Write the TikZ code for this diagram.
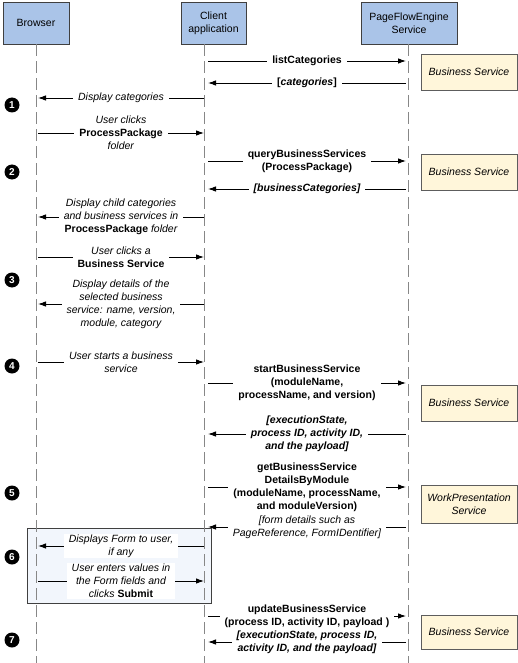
\documentclass[tikz,border=0pt]{standalone}
\usepackage{fontspec}
\setmainfont{Liberation Sans}
\usetikzlibrary{arrows.meta}

\definecolor{hdrblue}{RGB}{170,196,232}
\definecolor{svcyellow}{RGB}{255,246,218}
\definecolor{formblue}{RGB}{242,246,252}
\definecolor{lifegray}{RGB}{135,135,135}
\definecolor{edgegray}{RGB}{64,64,64}
\newcommand{\bup}[1]{\textbf{\upshape #1}}

\begin{document}
\begin{tikzpicture}[x=1pt, y=-1pt, font=\fontsize{10.5}{13}\selectfont,
	actor/.style={draw=edgegray, fill=hdrblue, line width=0.9pt, minimum height=42pt, align=center, inner sep=1pt},
	svc/.style={draw=edgegray!85, fill=svcyellow, line width=0.9pt, minimum width=96pt, minimum height=36pt, align=center, font=\fontsize{10.5}{13}\selectfont\itshape},
	life/.style={draw=lifegray, line width=0.8pt, dash pattern=on 12pt off 5pt},
	msg/.style={line width=0.9pt, -{Latex[length=8pt,width=5.5pt]}},
	lbl/.style={fill=white, inner xsep=5pt, inner ysep=1pt, align=center},
	lblit/.style={lbl, font=\fontsize{10.5}{13}\selectfont\itshape},
	lblbf/.style={lbl, font=\fontsize{10.5}{13}\selectfont\bfseries},
	lblbi/.style={lbl, font=\fontsize{10.5}{13}\selectfont\bfseries\itshape},
	stepnum/.style={circle, fill=black, text=white, inner sep=0pt, minimum size=15pt, font=\fontsize{10}{12}\selectfont\bfseries}]
	\useasboundingbox (0,0) rectangle (517,663);
	\node[actor, minimum width=66pt] (brw) at (36,23) {Browser};
	\node[actor, minimum width=65pt] (cli) at (213.5,23) {Client\\application};
	\node[actor, minimum width=96pt] (pfe) at (409,23) {PageFlowEngine\\Service};
	% step 6 frame, under the lifelines
	\draw[draw=edgegray, fill=formblue, line width=0.9pt] (27,528) rectangle (211,603);
	% lifelines
	\coordinate (brwL) at (brw.south);
	\coordinate (cliL) at (204,44);
	\coordinate (pfeL) at (408,44);
	\coordinate (brwE) at (brwL |- 0,663);
	\coordinate (cliE) at (cliL |- 0,663);
	\coordinate (pfeE) at (pfeL |- 0,663);
	\draw[life] (brwL) -- (brwE);
	\draw[life] (cliL) -- (cliE);
	\draw[life] (pfeL) -- (pfeE);
	% message ends
	\coordinate (brwA) at (38,44);
	\coordinate (cliB) at (208,44);
	\coordinate (pfeA) at (406,44);
	% services
	\node[svc] (bs1) at (469,72) {Business Service};
	\node[svc] (bs2) at (469,172) {Business Service};
	\node[svc] (bs3) at (469,403) {Business Service};
	\node[svc, minimum height=38pt] (wps) at (469,504) {WorkPresentation\\Service};
	\node[svc, minimum height=34pt] (bs4) at (469,632) {Business Service};
	% steps
	\foreach \n/\y in {1/105, 2/172, 3/280, 4/366, 5/493, 6/557, 7/640}
		\node[stepnum] (s\n) at (12,\y) {\n};
	% messages
	\draw[msg] (cliB |- 0,61) -- node[lblbf] {listCategories} (pfeA |- 0,61);
	\draw[msg] (pfeA |- 0,83) -- node[lblbf] {[\textit{categories}]} (cliB |- 0,83);
	\draw[msg] (cliL |- 0,98) -- node[lblit] {Display categories} (brwA |- 0,98);
	\draw[msg] (brwA |- 0,133) -- node[lbl] {\textit{User clicks}\\\textbf{ProcessPackage}\\\textit{folder}} (cliL |- 0,133);
	\draw[msg] (cliB |- 0,161) -- node[lblbf] {queryBusinessServices\\(ProcessPackage)} (pfeA |- 0,161);
	\draw[msg] (pfeA |- 0,189) -- node[lblbi] {[businessCategories]} (cliB |- 0,189);
	\draw[msg] (cliL |- 0,217) -- node[lblit] {Display child categories\\and business services in\\\bup{ProcessPackage} folder} (brwA |- 0,217);
	\draw[msg] (brwA |- 0,257) -- node[lbl] {\textit{User clicks a}\\\textbf{Business Service}} (cliL |- 0,257);
	\draw[msg] (cliL |- 0,304) -- node[lblit] {Display details of the\\selected business\\service: name, version,\\module, category} (brwA |- 0,304);
	\draw[msg] (brwA |- 0,362) -- node[lblit] {User starts a business\\service} (cliL |- 0,362);
	\draw[msg] (cliB |- 0,383) -- node[lblbf] {startBusinessService\\(moduleName,\\processName, and version)} (pfeA |- 0,383);
	\draw[msg] (pfeA |- 0,434) -- node[lblbi] {[executionState,\\process ID, activity ID,\\and the payload]} (cliB |- 0,434);
	\draw[msg] (cliB |- 0,487) -- node[lblbf] {getBusinessService\\DetailsByModule\\(moduleName, processName,\\and moduleVersion)} (pfeA |- 0,487);
	\draw[msg] (pfeA |- 0,527) -- node[lblit] {[form details such as\\PageReference, FormIDentifier]} (cliB |- 0,527);
	\draw[msg] (cliL |- 0,546) -- node[lblit] {Displays Form to user,\\if any} (brwA |- 0,546);
	\draw[msg] (brwA |- 0,581) -- node[lblit] {User enters values in\\the Form fields and\\clicks \bup{Submit}} (cliL |- 0,581);
	\draw[msg] (cliB |- 0,616) -- node[lblbf] {updateBusinessService\\(process ID, activity ID, payload )} (pfeA |- 0,616);
	\draw[msg] (pfeA |- 0,642) -- node[lblbi] {[executionState, process ID,\\activity ID, and the payload]} (cliB |- 0,642);
\end{tikzpicture}
\end{document}
